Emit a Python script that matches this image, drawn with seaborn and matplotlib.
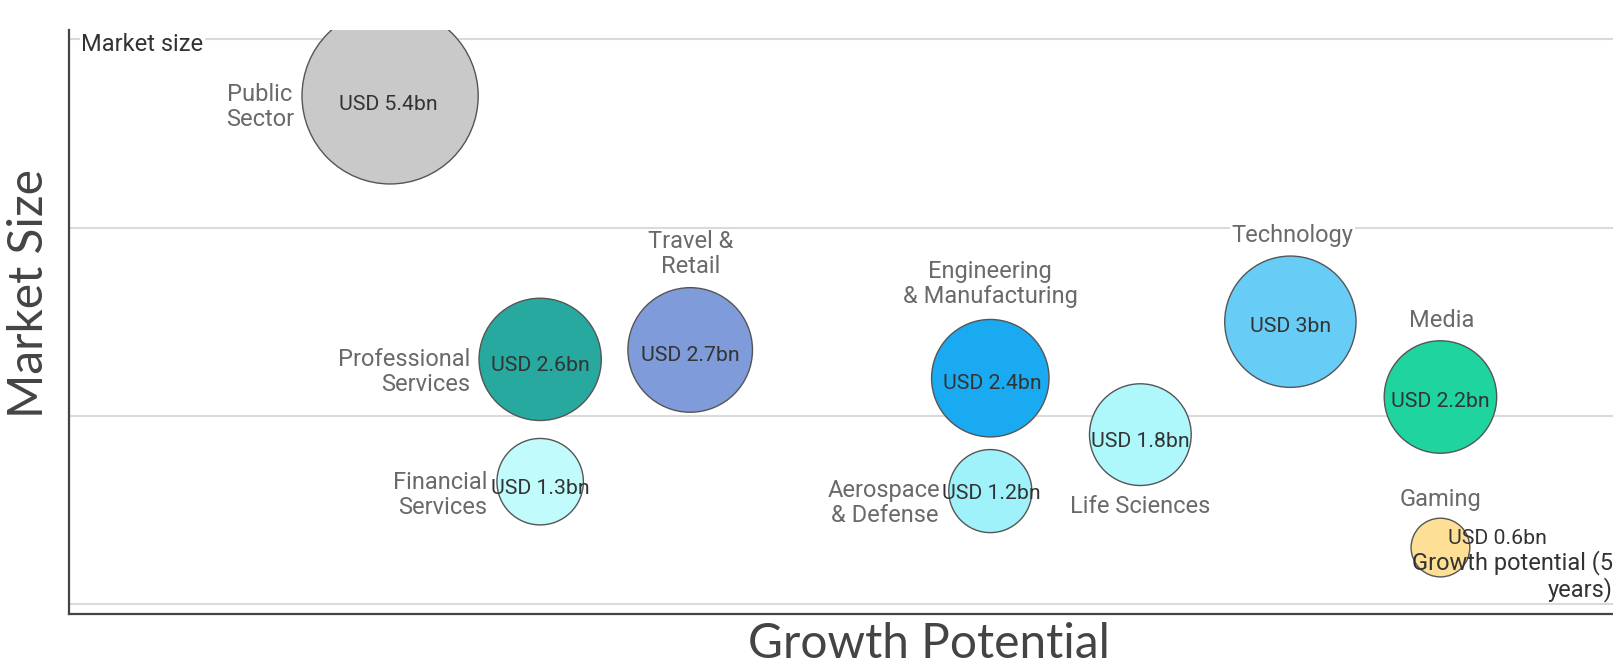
import pandas as pd
import seaborn as sns
from matplotlib import pyplot as plt

# Bubble data
sectors = ['Public\nSector', 'Professional\nServices', 'Financial\nServices', 'Travel &\nRetail',
           'Engineering\n& Manufacturing', 'Aerospace\n& Defense', 'Life Sciences',
           'Technology', 'Media', 'Gaming']
growth = [1, 2, 2, 3, 5, 5, 6, 7, 8, 8]
market_bn = [5.4, 2.6, 1.3, 2.7, 2.4, 1.2, 1.8, 3.0, 2.2, 0.6]
usd_labels = ['USD 5.4bn', 'USD 2.6bn', 'USD 1.3bn', 'USD 2.7bn', 'USD 2.4bn',
              'USD 1.2bn', 'USD 1.8bn', 'USD 3bn', 'USD 2.2bn', 'USD 0.6bn']
colors = ['#c9c9c9', '#27a9a0', '#c2fbfb', '#7f9bd9', '#19aaf2',
          '#a0f2fa', '#aef8fc', '#67cdf7', '#20d49f', '#fde096']

# label placement (pixel offsets from bubble centre, alignment)
name_pos = [(-130, -11, 'center'), (-70, -13, 'right'), (-53, -13, 'right'), (0, 96, 'center'),
            (0, 94, 'center'), (-106, -12, 'center'), (0, -72, 'center'), (2, 86, 'center'),
            (1, 76, 'center'), (0, 48, 'center')]
usd_pos = [(-2, -9), (0, -6), (0, -7), (0, -6), (2, -5), (1, -2), (0, -7), (0, -5), (0, -5), (57, 9)]

df = pd.DataFrame({'sector': sectors, 'growth': growth, 'market': market_bn})

sns.set_style('white')
plt.rcParams['font.family'] = ['Roboto', 'DejaVu Sans']

fig = plt.figure(figsize=(16.13, 6.63), dpi=100)
ax = fig.add_axes([69 / 1613, 1 - 614 / 663, 1 - 69 / 1613, (614 - 30) / 663])

sns.scatterplot(data=df, x='growth', y='market', hue='sector', size='market',
                palette=dict(zip(sectors, colors)), sizes=(0, 2980 * 5.4), size_norm=(0, 5.4),
                edgecolor='#555555', linewidth=1, alpha=1, legend=False, ax=ax, zorder=3)

ax.set_xlim(-1.14, 9.15)
ax.set_ylim(-0.106, 6.1)
ax.set_xticks([])
ax.set_yticks([0, 2, 4, 6])
ax.tick_params(left=False, bottom=False, labelleft=False, labelbottom=False)
ax.yaxis.grid(True, color='#dadada', lw=1.5)
ax.set_axisbelow(True)
for side in ['top', 'right']:
    ax.spines[side].set_visible(False)
for side in ['left', 'bottom']:
    ax.spines[side].set_color('#444444')
    ax.spines[side].set_linewidth(1.6)

box = dict(facecolor='white', edgecolor='none', pad=1)
for i in range(len(sectors)):
    dx, dy, ha = name_pos[i]
    ax.annotate(sectors[i], (growth[i], market_bn[i]), xytext=(dx, dy), textcoords='offset pixels',
                ha=ha, va='center', multialignment=ha, fontsize=17, color='#6a6a6a',
                linespacing=1.1, bbox=box, zorder=2)
    ux, uy = usd_pos[i]
    ax.annotate(usd_labels[i], (growth[i], market_bn[i]), xytext=(ux, uy), textcoords='offset pixels',
                ha='center', va='center', fontsize=15.3, color='#333333', zorder=4)

ax.text(0.008, 0.976, 'Market size', transform=ax.transAxes, ha='left', va='center',
        fontsize=17, color='#333333', bbox=box, zorder=2)
ax.text(1.0, 0.065, 'Growth potential (5\nyears)', transform=ax.transAxes, ha='right', va='center',
        multialignment='right', fontsize=17, color='#333333', linespacing=1.1, zorder=4)

ax.set_xlabel('Growth Potential', fontsize=34.5, color='#444444', family='Lato')
ax.set_ylabel('Market Size', fontsize=34.5, color='#444444', family='Lato')
ax.xaxis.set_label_coords((929 - 69) / 1544, (614 - 644) / 584)
ax.yaxis.set_label_coords((29 - 69) / 1544, (614 - 293) / 584)
ax.xaxis.label.set_va('center')
ax.yaxis.label.set_va('center')

plt.savefig('out.png', dpi=100)
